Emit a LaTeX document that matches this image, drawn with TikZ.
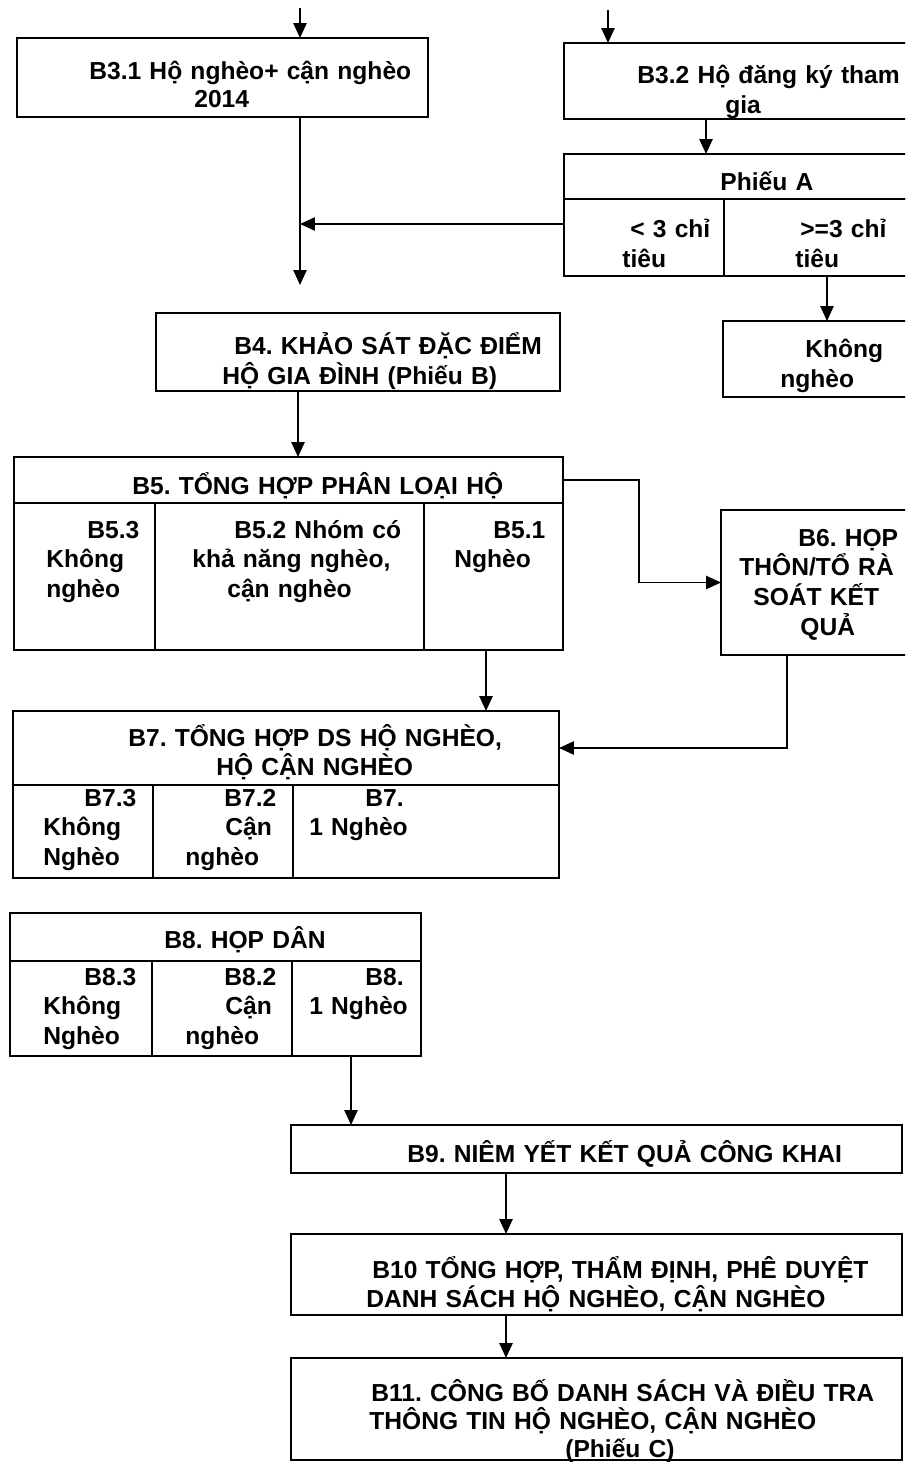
\documentclass[tikz,border=0pt]{standalone}
\usepackage{fontspec}
\setmainfont{Liberation Sans}
\usetikzlibrary{arrows.meta,fit}
\frenchspacing
\newlength{\pxunit}
\setlength{\pxunit}{0.02cm}
\newcommand{\ind}[1]{\hspace*{#1\pxunit}}
\newcommand{\stepbox}[5]{%
	\path (#2,#3) coordinate (#1-nw) (#4,#5) coordinate (#1-se);
	\node[boxline, fit=(#1-nw)(#1-se)] (#1) {};
}
\newcommand{\steplabel}[4]{%
	\node[steptext] (#1) at (#2,#3) {#4};
}
\tikzset{
	boxline/.style={rectangle, draw=black, line width=1.1pt, inner sep=0pt, outer sep=0pt},
	steptext/.style={anchor=base west, inner sep=0pt, text width=12cm, align=left, font=\bfseries\fontsize{14}{17}\selectfont},
	flow/.style={-{Triangle[length=8.5pt,width=7.5pt]}, line width=1.1pt},
}
\begin{document}
\begin{tikzpicture}[x=0.02cm,y=-0.02cm]
	\useasboundingbox (0,0) rectangle (905,1462);
	\fill[white] (0,0) rectangle (905,1462);
	\clip (0,0) rectangle (905,1462);

	% B3 inputs
	\stepbox{b31}{17}{38}{428}{117}
	\node[steptext, font=\bfseries\fontsize{14}{15.5}\selectfont] (t31) at (89,80) {B3.1 Hộ nghèo+ cận nghèo\\\ind{105}2014};
	\stepbox{b32}{564}{43}{930}{119}
	\steplabel{t32}{637}{84}{B3.2 Hộ đăng ký tham\\\ind{88}gia}

	% Phieu A
	\stepbox{pha}{564}{154}{930}{199}
	\stepbox{plt}{564}{199}{724}{276}
	\stepbox{pge}{724}{199}{930}{276}
	\steplabel{tpha}{720}{191}{Phiếu A}
	\steplabel{tplt}{622}{238}{\ind{8}< 3 chỉ\\tiêu}
	\steplabel{tpge}{795}{238}{\ind{5}>=3 chỉ\\tiêu}
	\stepbox{kng}{723}{321}{930}{397}
	\steplabel{tkng}{780}{358}{\ind{25}Không\\nghèo}

	% B4
	\stepbox{b4}{156}{313}{560}{391}
	\steplabel{t4}{222}{355}{\ind{12}B4. KHẢO SÁT ĐẶC ĐIỂM\\HỘ GIA ĐÌNH (Phiếu B)}

	% B5 and B6
	\stepbox{b5}{14}{457}{563}{503}
	\steplabel{t5}{132}{494}{B5. TỔNG HỢP PHÂN LOẠI HỘ}
	\stepbox{b53}{14}{503}{155}{650}
	\stepbox{b52}{155}{503}{424}{650}
	\stepbox{b51}{424}{503}{563}{650}
	\steplabel{t53}{46}{538}{\ind{41}B5.3\\Không\\nghèo}
	\steplabel{t52}{192}{538}{\ind{42}B5.2 Nhóm có\\khả năng nghèo,\\\ind{35}cận nghèo}
	\steplabel{t51}{454}{538}{\ind{39}B5.1\\Nghèo}
	\stepbox{b6}{721}{510}{930}{655}
	\steplabel{t6}{739}{546}{\ind{59}B6. HỌP\\THÔN/TỔ RÀ\\\ind{14}SOÁT KẾT\\\ind{61}QUẢ}

	% B7
	\stepbox{b7}{13}{711}{559}{785}
	\steplabel{t7}{128}{746}{B7. TỔNG HỢP DS HỘ NGHÈO,\\\ind{88}HỘ CẬN NGHÈO}
	\stepbox{b73}{13}{785}{153}{878}
	\stepbox{b72}{153}{785}{293}{878}
	\stepbox{b71}{293}{785}{559}{878}
	\steplabel{t73}{43}{806}{\ind{41}B7.3\\Không\\Nghèo}
	\steplabel{t72}{185}{806}{\ind{39}B7.2\\\ind{40}Cận\\nghèo}
	\steplabel{t71}{309}{806}{\ind{56}B7.\\1 Nghèo}

	% B8
	\stepbox{b8}{10}{913}{421}{961}
	\steplabel{t8}{164}{948}{B8. HỌP DÂN}
	\stepbox{b83}{10}{961}{152}{1056}
	\stepbox{b82}{152}{961}{292}{1056}
	\stepbox{b81}{292}{961}{421}{1056}
	\steplabel{t83}{43}{985}{\ind{41}B8.3\\Không\\Nghèo}
	\steplabel{t82}{185}{985}{\ind{39}B8.2\\\ind{40}Cận\\nghèo}
	\steplabel{t81}{309}{985}{\ind{56}B8.\\1 Nghèo}

	% B9 to B11
	\stepbox{b9}{291}{1125}{902}{1173}
	\steplabel{t9}{407}{1162}{B9. NIÊM YẾT KẾT QUẢ CÔNG KHAI}
	\stepbox{b10}{291}{1234}{902}{1315}
	\steplabel{t10}{366}{1278}{\ind{6}B10 TỔNG HỢP, THẨM ĐỊNH, PHÊ DUYỆT\\DANH SÁCH HỘ NGHÈO, CẬN NGHÈO}
	\stepbox{b11}{291}{1358}{902}{1460}
	\node[steptext, font=\bfseries\fontsize{14}{16}\selectfont] (t11) at (369,1401) {\ind{2}B11. CÔNG BỐ DANH SÁCH VÀ ĐIỀU TRA\\THÔNG TIN HỘ NGHÈO, CẬN NGHÈO\\\ind{196}(Phiếu C)};

	% Connectors
	\coordinate (in31) at (300,8);
	\coordinate (in32) at (608,10);
	\coordinate (m4) at (300,285);
	\coordinate (j31) at (300,224);
	\coordinate (c32) at (706,0);
	\coordinate (cge) at (827,0);
	\coordinate (c4) at (298,0);
	\coordinate (c51) at (486,0);
	\coordinate (c6) at (787,0);
	\coordinate (c8) at (351,0);
	\coordinate (c9) at (506,0);
	\draw[flow] (in31) -- (in31 |- b31.north);
	\draw[flow] (in32) -- (in32 |- b32.north);
	\draw[flow] (m4 |- b31.south) -- (m4);
	\draw[flow] (j31 -| plt.west) -- (j31);
	\draw[flow] (c32 |- b32.south) -- (c32 |- pha.north);
	\draw[flow] (cge |- pge.south) -- (cge |- kng.north);
	\draw[flow] (c4 |- b4.south) -- (c4 |- b5.north);
	\draw[flow] (b5.east) -- ++(76,0) |- (b6.west);
	\draw[flow] (c51 |- b51.south) -- (c51 |- b7.north);
	\draw[flow] (c6 |- b6.south) |- (b7.east);
	\draw[flow] (c8 |- b81.south) -- (c8 |- b9.north);
	\draw[flow] (c9 |- b9.south) -- (c9 |- b10.north);
	\draw[flow] (c9 |- b10.south) -- (c9 |- b11.north);
\end{tikzpicture}
\end{document}
